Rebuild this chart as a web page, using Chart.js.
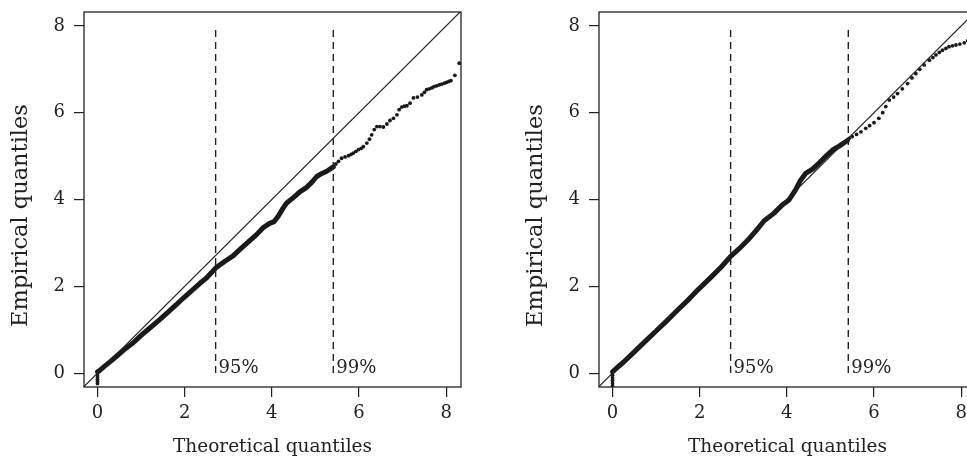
<!DOCTYPE html>
<html><head><meta charset="utf-8">
<script src="https://cdn.jsdelivr.net/npm/chart.js@4"></script>
<style>
html,body{margin:0;padding:0;background:#fff;overflow:hidden;width:967px;height:459px;}
#wrap{position:relative;width:967px;height:459px;overflow:hidden;}
canvas{position:absolute;top:0;}
</style></head><body>
<div id="wrap">
<canvas id="c1" width="490" height="459" style="left:0px"></canvas>
<canvas id="c2" width="490" height="459" style="left:515px"></canvas>
</div>
<script>
const xTicks=[0,2,4,6,8];
const yTicks=[0,2,4,6,8];
const xRange=[-0.31,8.34];
const yRange=[-0.32,8.32];
const thresholdX=[2.71,5.41];
const thresholdLabels=['95%','99%'];
const thresholdSpan=[0,8];
const refLine=[[-1,-1],[9,9]];
const xTitle='Theoretical quantiles';
const yTitle='Empirical quantiles';

const leftBody=[[0,0.03],[0.05,0.06],[0.15,0.15],[0.3,0.27],[0.45,0.40],[0.6,0.53],[0.82,0.70],[1.0,0.87],[1.2,1.04],[1.4,1.21],[1.6,1.39],[1.8,1.57],[1.97,1.73],[2.15,1.89],[2.35,2.07],[2.5,2.19],[2.71,2.42],[2.9,2.56],[3.11,2.70],[3.3,2.88],[3.5,3.06],[3.65,3.19],[3.81,3.36],[3.95,3.45],[4.05,3.49],[4.15,3.62],[4.25,3.79],[4.34,3.92],[4.5,4.05],[4.65,4.18],[4.8,4.28],[4.92,4.40],[5.03,4.53],[5.15,4.60],[5.26,4.65],[5.41,4.75]];
const leftTail=[[5.47,4.82],[5.53,4.88],[5.60,4.95],[5.68,4.98],[5.76,5.01],[5.82,5.04],[5.87,5.07],[5.93,5.11],[5.99,5.15],[6.05,5.18],[6.10,5.22],[6.18,5.30],[6.24,5.39],[6.29,5.49],[6.35,5.61],[6.41,5.68],[6.48,5.68],[6.56,5.67],[6.64,5.74],[6.71,5.82],[6.79,5.87],[6.87,5.95],[6.92,6.07],[6.98,6.13],[7.04,6.15],[7.10,6.16],[7.17,6.22],[7.25,6.34],[7.34,6.36],[7.44,6.41],[7.50,6.47],[7.55,6.53],[7.61,6.55],[7.67,6.57],[7.72,6.60],[7.78,6.62],[7.84,6.64],[7.90,6.66],[7.96,6.68],[8.01,6.70],[8.06,6.72],[8.11,6.74],[8.20,6.86],[8.30,7.14]];
const leftLow=[[0,-0.04],[0,-0.09],[0,-0.14],[0,-0.19],[0,-0.24]];

const rightBody=[[0,0.03],[0.1,0.12],[0.25,0.25],[0.5,0.49],[0.75,0.73],[1.0,0.97],[1.25,1.21],[1.5,1.46],[1.75,1.70],[1.97,1.93],[2.25,2.20],[2.5,2.45],[2.71,2.69],[2.9,2.86],[3.1,3.06],[3.3,3.29],[3.48,3.51],[3.7,3.68],[3.9,3.88],[4.05,3.99],[4.2,4.22],[4.3,4.42],[4.43,4.60],[4.59,4.70],[4.74,4.84],[4.9,5.0],[5.05,5.14],[5.2,5.23],[5.39,5.36]];
const rightTail=[[5.43,5.41],[5.5,5.45],[5.6,5.50],[5.7,5.56],[5.81,5.64],[5.9,5.70],[6.0,5.77],[6.11,5.87],[6.2,6.0],[6.27,6.14],[6.35,6.29],[6.45,6.36],[6.54,6.44],[6.65,6.55],[6.77,6.67],[6.87,6.80],[6.96,6.90],[7.05,7.00],[7.15,7.10],[7.27,7.21],[7.35,7.27],[7.42,7.33],[7.5,7.39],[7.57,7.44],[7.65,7.48],[7.72,7.52],[7.8,7.54],[7.88,7.56],[7.97,7.58],[8.07,7.61],[8.15,7.66],[8.25,7.70]];
const rightLow=[[0,-0.05],[0,-0.11],[0,-0.17],[0,-0.23],[0,-0.29]];

const FONT='DejaVu Serif';
const INK='#222';
const pts=a=>a.map(p=>({x:p[0],y:p[1]}));

const framePlugin={
  id:'frame',
  afterDraw(chart){
    const {ctx,chartArea:a,scales}=chart;
    ctx.save();
    ctx.strokeStyle=INK;ctx.lineWidth=1.3;
    ctx.strokeRect(a.left,a.top,a.right-a.left,a.bottom-a.top);
    ctx.fillStyle=INK;
    ctx.font='18px "'+FONT+'"';
    ctx.textAlign='left';ctx.textBaseline='alphabetic';
    thresholdX.forEach((t,i)=>{
      ctx.fillText(thresholdLabels[i],scales.x.getPixelForValue(t)+3,scales.y.getPixelForValue(0));
    });
    ctx.translate(21,(a.top+a.bottom)/2+16);
    ctx.rotate(-Math.PI/2);
    ctx.textAlign='center';ctx.textBaseline='middle';
    ctx.font='22.5px "'+FONT+'"';
    ctx.fillText(yTitle,0,0);
    ctx.restore();
  }
};

function makeChart(id,body,tail,low){
  const datasets=[
    {data:pts(refLine),showLine:true,borderColor:INK,borderWidth:1.2,pointRadius:0,clip:0},
    ...thresholdX.map(t=>({data:thresholdSpan.map(v=>({x:t,y:v})),showLine:true,borderColor:INK,borderWidth:1.4,borderDash:[7,5],pointRadius:0})),
    {data:pts(body),showLine:true,borderColor:'#1a1a1a',borderWidth:5,borderCapStyle:'round',borderJoinStyle:'round',pointRadius:0},
    {data:pts(tail),showLine:false,pointRadius:1.9,pointBorderWidth:0,backgroundColor:'#1a1a1a'},
    {data:pts(low),showLine:false,pointRadius:1.9,pointBorderWidth:0,backgroundColor:'#1a1a1a'}
  ];
  const tickFont={family:FONT,size:18};
  return new Chart(document.getElementById(id),{
    type:'scatter',
    data:{datasets},
    options:{
      responsive:false,animation:false,events:[],
      layout:{padding:{top:12,right:29,left:0,bottom:0}},
      plugins:{legend:{display:false},tooltip:{enabled:false}},
      scales:{
        x:{type:'linear',min:xRange[0],max:xRange[1],
          afterBuildTicks:s=>{s.ticks=xTicks.map(v=>({value:v}));},
          afterFit:s=>{s.height=72;s.paddingLeft=0;s.paddingRight=0;},
          ticks:{font:tickFont,color:INK,padding:6,maxRotation:0,autoSkip:false},
          grid:{display:true,drawOnChartArea:false,drawTicks:true,tickLength:10,color:INK,lineWidth:1.2},
          border:{display:false},
          title:{display:true,text:xTitle,font:{family:FONT,size:18.5},color:INK,padding:{top:0,bottom:1}}},
        y:{type:'linear',min:yRange[0],max:yRange[1],
          afterBuildTicks:s=>{s.ticks=yTicks.map(v=>({value:v}));},
          afterFit:s=>{s.width=84;s.paddingTop=0;s.paddingBottom=0;},
          ticks:{font:tickFont,color:INK,padding:9,autoSkip:false},
          grid:{display:true,drawOnChartArea:false,drawTicks:true,tickLength:10,color:INK,lineWidth:1.2},
          border:{display:false}}
      }
    },
    plugins:[framePlugin]
  });
}
makeChart('c1',leftBody,leftTail,leftLow);
makeChart('c2',rightBody,rightTail,rightLow);
</script>
</body></html>
